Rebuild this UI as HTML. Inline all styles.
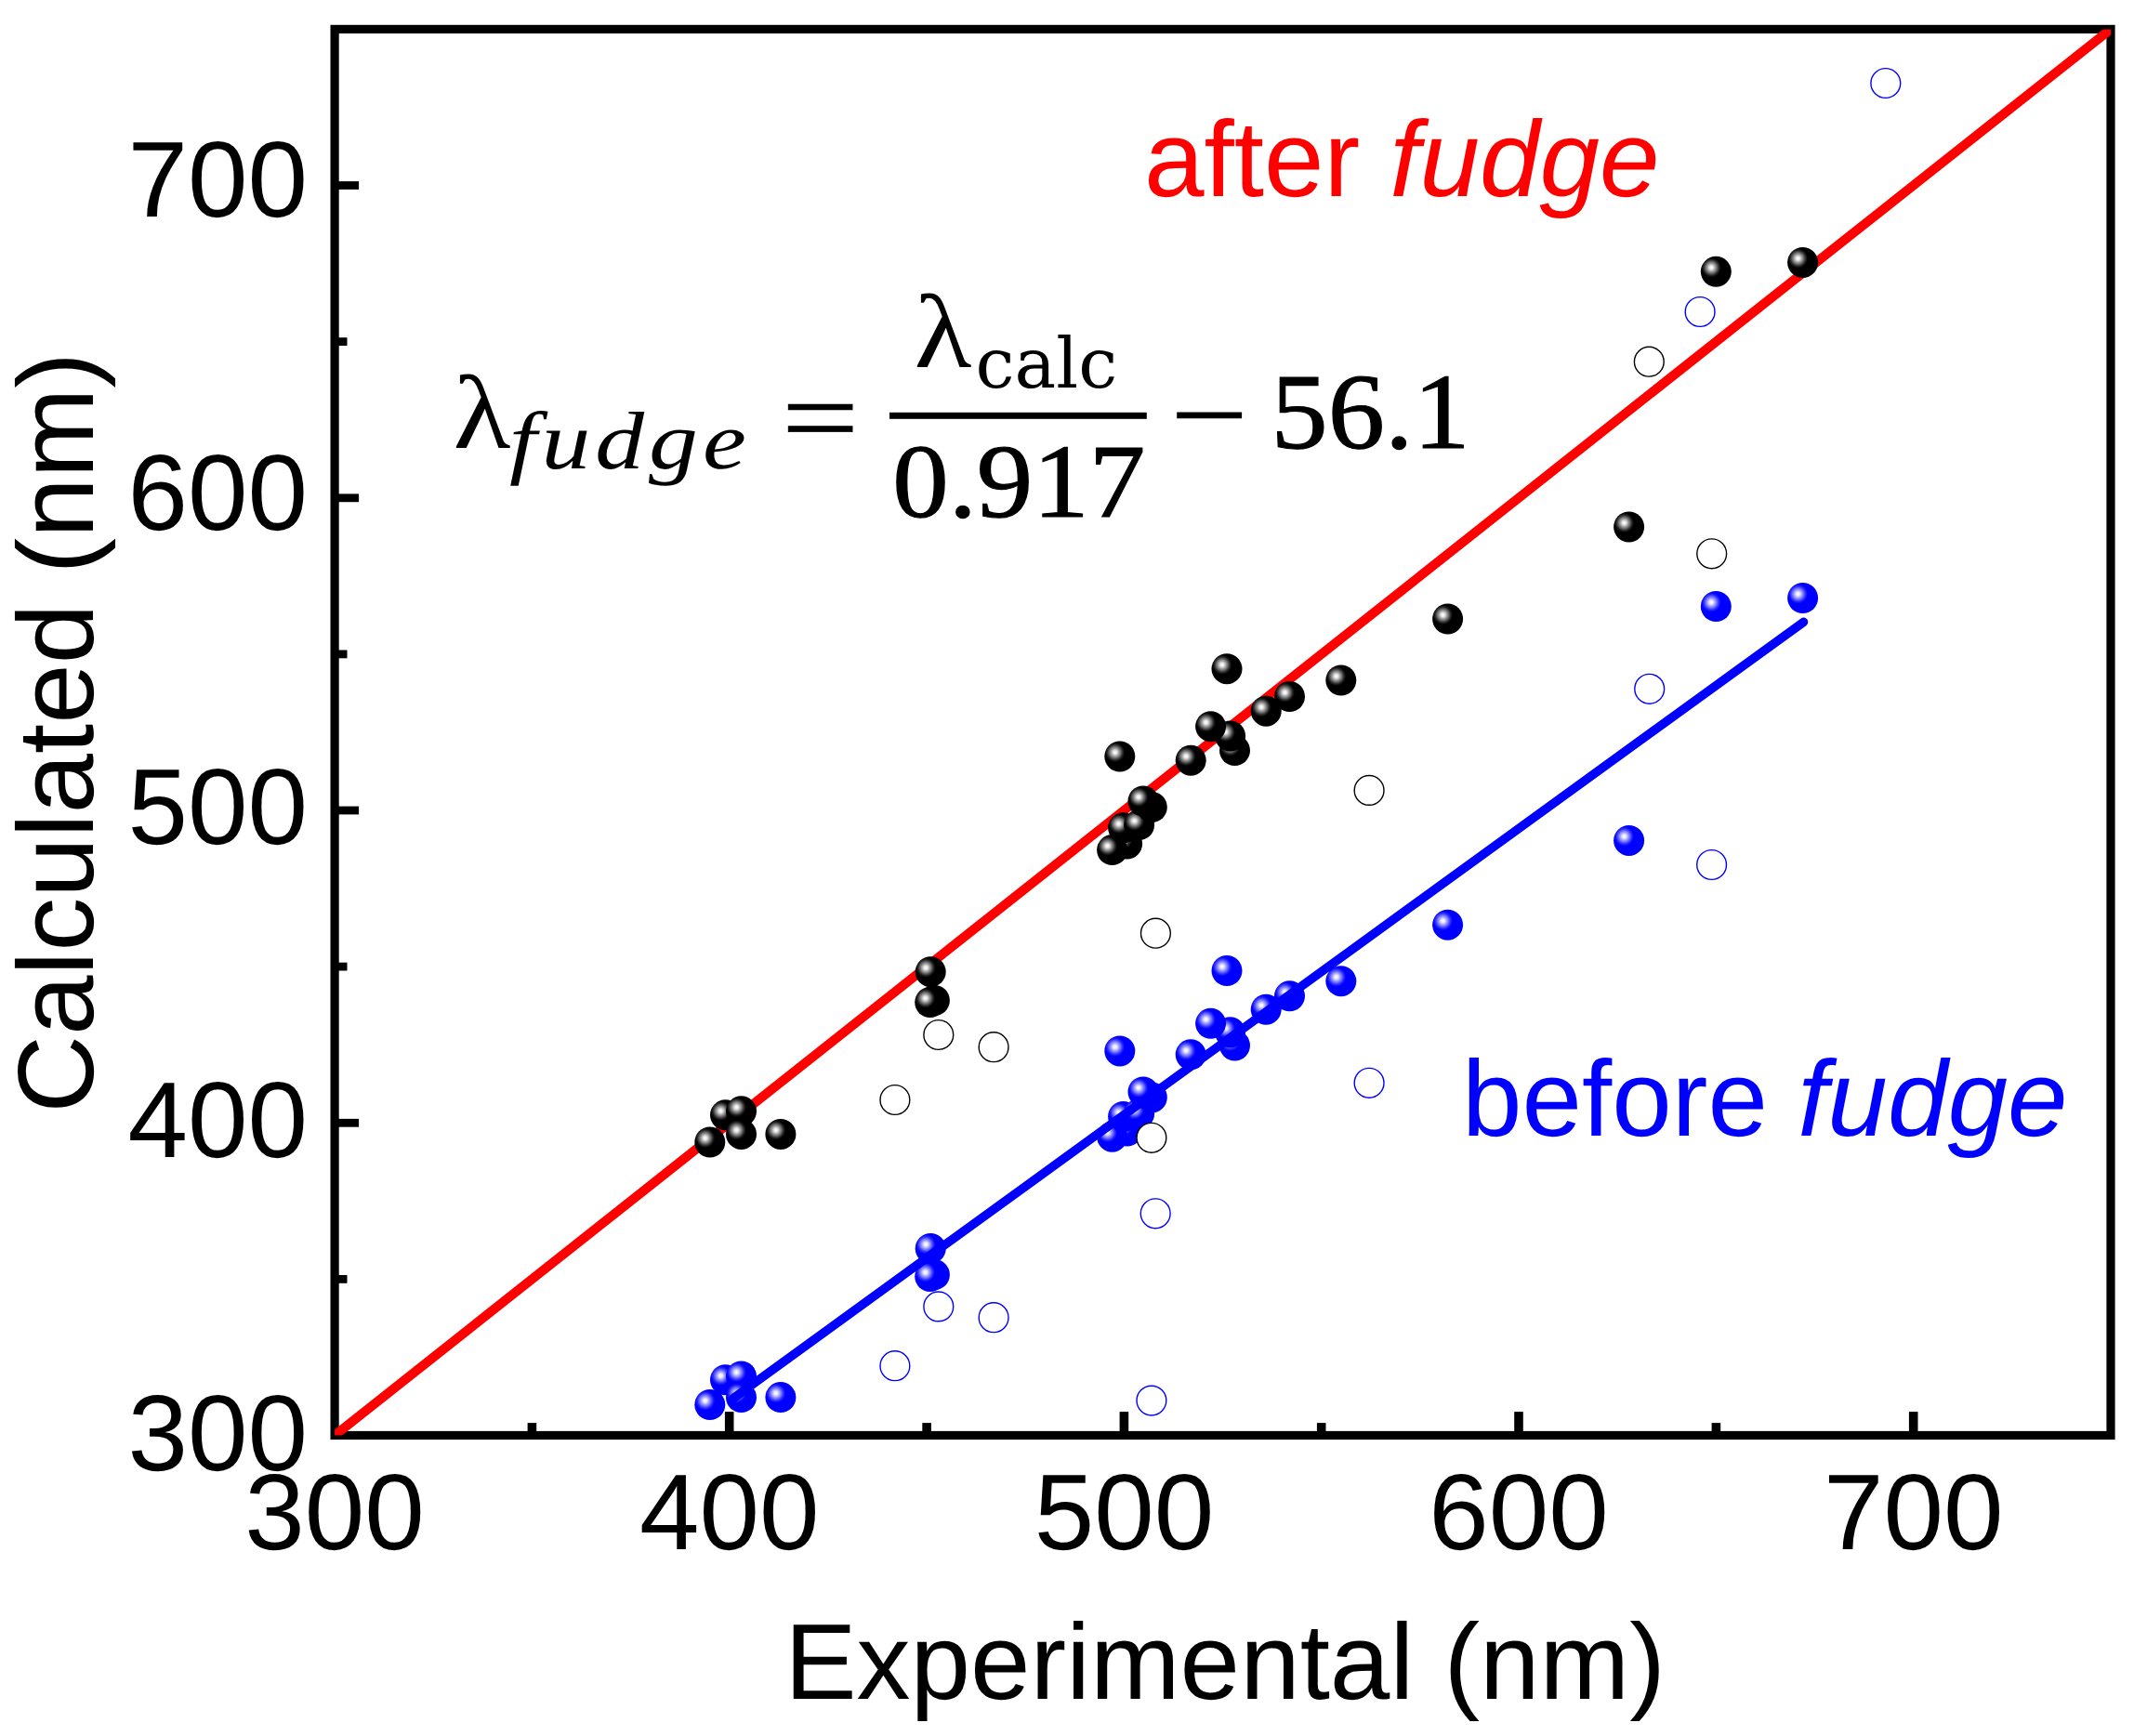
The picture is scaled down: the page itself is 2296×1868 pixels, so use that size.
<!DOCTYPE html>
<html lang="en"><head><meta charset="utf-8"><title>Calculated vs Experimental</title>
<style>
html,body{margin:0;padding:0;background:#fff;}
body{width:2296px;height:1868px;overflow:hidden;}
svg{display:block;}
.sans{font-family:"Liberation Sans",Arial,Helvetica,sans-serif;}
.serif{font-family:"Liberation Serif","Times New Roman",serif;}
.dserif{font-family:"DejaVu Serif","Liberation Serif",serif;}
</style></head><body>
<svg width="2296" height="1868" viewBox="0 0 2296 1868" text-rendering="geometricPrecision">
<defs>
<radialGradient id="hl" cx="0.5" cy="0.5" r="0.5"><stop offset="0" stop-color="#fff" stop-opacity="1"/><stop offset="0.18" stop-color="#fff" stop-opacity="0.92"/><stop offset="0.4" stop-color="#fff" stop-opacity="0.64"/><stop offset="0.6" stop-color="#fff" stop-opacity="0.4"/><stop offset="0.8" stop-color="#fff" stop-opacity="0.15"/><stop offset="1" stop-color="#fff" stop-opacity="0"/></radialGradient>
<g id="sb"><circle r="16.5" fill="#000"/><circle cx="-5.1" cy="-4.4" r="10.5" fill="url(#hl)"/></g>
<g id="su"><circle r="16.5" fill="#00f"/><circle cx="-5.1" cy="-4.4" r="10.5" fill="url(#hl)"/></g>
<clipPath id="plot"><rect x="360.1" y="31.4" width="1910.9" height="1513.1"/></clipPath>
</defs>
<rect width="2296" height="1868" fill="#fff"/>
<g stroke="#000" fill="none">
<rect x="360.1" y="31.4" width="1910.9" height="1513.1" stroke-width="9.2"/>
<g stroke-width="9.6">
<line x1="784.7" y1="1544.5" x2="784.7" y2="1519.1"/>
<line x1="1209.4" y1="1544.5" x2="1209.4" y2="1519.1"/>
<line x1="1634.0" y1="1544.5" x2="1634.0" y2="1519.1"/>
<line x1="2058.7" y1="1544.5" x2="2058.7" y2="1519.1"/>
<line x1="572.4" y1="1544.5" x2="572.4" y2="1531.1"/>
<line x1="997.1" y1="1544.5" x2="997.1" y2="1531.1"/>
<line x1="1421.7" y1="1544.5" x2="1421.7" y2="1531.1"/>
<line x1="1846.4" y1="1544.5" x2="1846.4" y2="1531.1"/>
</g><g stroke-width="8.8">
<line x1="360.1" y1="1208.3" x2="386.1" y2="1208.3"/>
<line x1="360.1" y1="872.0" x2="386.1" y2="872.0"/>
<line x1="360.1" y1="535.8" x2="386.1" y2="535.8"/>
<line x1="360.1" y1="199.5" x2="386.1" y2="199.5"/>
<line x1="360.1" y1="1376.4" x2="373.5" y2="1376.4"/>
<line x1="360.1" y1="1040.1" x2="373.5" y2="1040.1"/>
<line x1="360.1" y1="703.9" x2="373.5" y2="703.9"/>
<line x1="360.1" y1="367.6" x2="373.5" y2="367.6"/>
</g></g>
<g clip-path="url(#plot)">
<line x1="330.1" y1="1568.3" x2="2301.0" y2="7.6" stroke="#f00" stroke-width="10"/>
</g>
<g>
<use href="#su" x="763.8" y="1511.5"/>
<use href="#su" x="780.5" y="1484.7"/>
<use href="#su" x="797.5" y="1481.0"/>
<use href="#su" x="797.5" y="1503.6"/>
<use href="#su" x="839.9" y="1503.6"/>
<use href="#su" x="1005.4" y="1371.6"/>
<use href="#su" x="1000.7" y="1373.5"/>
<use href="#su" x="1001.2" y="1343.4"/>
<use href="#su" x="1212.6" y="1217.1"/>
<use href="#su" x="1196.6" y="1223.2"/>
<use href="#su" x="1208.6" y="1201.4"/>
<use href="#su" x="1225.6" y="1198.4"/>
<use href="#su" x="1239.3" y="1180.9"/>
<use href="#su" x="1230.0" y="1174.9"/>
<use href="#su" x="1204.8" y="1130.9"/>
<use href="#su" x="1281.2" y="1134.8"/>
<use href="#su" x="1328.5" y="1125.0"/>
<use href="#su" x="1323.6" y="1110.8"/>
<use href="#su" x="1302.6" y="1101.3"/>
<use href="#su" x="1387.5" y="1071.8"/>
<use href="#su" x="1362.2" y="1086.2"/>
<use href="#su" x="1320.0" y="1044.5"/>
<use href="#su" x="1442.8" y="1055.7"/>
<use href="#su" x="1557.6" y="995.2"/>
<use href="#su" x="1752.6" y="904.4"/>
<use href="#su" x="1846.3" y="652.5"/>
<use href="#su" x="1939.6" y="643.5"/>
</g>
<line x1="789.0" y1="1504.6" x2="1940.5" y2="669.3" stroke="#00f" stroke-width="9.5" stroke-linecap="round"/>
<g fill="#fff" stroke="#00f" stroke-width="1.4">
<circle cx="962.9" cy="1469.7" r="15.9"/>
<circle cx="1009.8" cy="1405.9" r="15.9"/>
<circle cx="1069.1" cy="1417.7" r="15.9"/>
<circle cx="1243.2" cy="1305.8" r="15.9"/>
<circle cx="1238.9" cy="1507.1" r="15.9"/>
<circle cx="1473.1" cy="1165.3" r="15.9"/>
<circle cx="1774.7" cy="741.3" r="15.9"/>
<circle cx="1841.6" cy="930.5" r="15.9"/>
<circle cx="1829.1" cy="335.5" r="15.9"/>
<circle cx="2028.8" cy="89.5" r="15.9"/>
</g>
<g>
<use href="#sb" x="763.8" y="1229.0"/>
<use href="#sb" x="780.5" y="1199.8"/>
<use href="#sb" x="797.5" y="1195.8"/>
<use href="#sb" x="797.5" y="1220.4"/>
<use href="#sb" x="839.9" y="1220.4"/>
<use href="#sb" x="1005.4" y="1076.5"/>
<use href="#sb" x="1000.7" y="1078.5"/>
<use href="#sb" x="1001.2" y="1045.7"/>
<use href="#sb" x="1212.6" y="908.0"/>
<use href="#sb" x="1196.6" y="914.6"/>
<use href="#sb" x="1208.6" y="890.8"/>
<use href="#sb" x="1225.6" y="887.6"/>
<use href="#sb" x="1239.3" y="868.5"/>
<use href="#sb" x="1230.0" y="862.0"/>
<use href="#sb" x="1204.8" y="814.0"/>
<use href="#sb" x="1281.2" y="818.2"/>
<use href="#sb" x="1328.5" y="807.5"/>
<use href="#sb" x="1323.6" y="792.0"/>
<use href="#sb" x="1302.6" y="781.7"/>
<use href="#sb" x="1387.5" y="749.5"/>
<use href="#sb" x="1362.2" y="765.2"/>
<use href="#sb" x="1320.0" y="719.7"/>
<use href="#sb" x="1442.8" y="732.0"/>
<use href="#sb" x="1557.6" y="666.0"/>
<use href="#sb" x="1752.6" y="567.0"/>
<use href="#sb" x="1846.3" y="292.3"/>
<use href="#sb" x="1939.6" y="282.4"/>
</g>
<g fill="#fff" stroke="#000" stroke-width="1.4">
<circle cx="962.9" cy="1183.5" r="15.9"/>
<circle cx="1009.8" cy="1113.5" r="15.9"/>
<circle cx="1069.1" cy="1126.7" r="15.9"/>
<circle cx="1238.9" cy="1224.3" r="15.9"/>
<circle cx="1243.4" cy="1004.2" r="15.9"/>
<circle cx="1473.1" cy="850.4" r="15.9"/>
<circle cx="1774.3" cy="389.2" r="15.9"/>
<circle cx="1841.7" cy="595.8" r="15.9"/>
</g>
<g class="sans" font-size="116" fill="#000">
<text x="360.1" y="1667.0" text-anchor="middle">300</text>
<text x="784.7" y="1667.0" text-anchor="middle">400</text>
<text x="1209.4" y="1667.0" text-anchor="middle">500</text>
<text x="1634.0" y="1667.0" text-anchor="middle">600</text>
<text x="2058.7" y="1667.0" text-anchor="middle">700</text>
<text x="331.0" y="1582.3" text-anchor="end">300</text>
<text x="331.0" y="1244.9" text-anchor="end">400</text>
<text x="331.0" y="907.5" text-anchor="end">500</text>
<text x="331.0" y="570.1" text-anchor="end">600</text>
<text x="331.0" y="232.7" text-anchor="end">700</text>
<text x="1318.0" y="1827.5" text-anchor="middle">Experimental (nm)</text>
<text transform="translate(99.5,788.4) rotate(-90)" text-anchor="middle">Calculated (nm)</text>
</g>
<g class="sans" font-size="116">
<text x="1231" y="210.5" fill="#f00">after <tspan font-style="italic">fudge</tspan></text>
<text x="1573" y="1222.3" fill="#00f">before <tspan font-style="italic">fudge</tspan></text>
</g>
<g fill="#000">
<text class="serif" transform="translate(487.6,481.8) scale(1.130,1)" font-size="113">λ</text>
<text class="serif" transform="translate(548.0,503.7) scale(1.200,1)" font-size="88" font-style="italic" letter-spacing="4.2">fudge</text>
<text class="serif" transform="translate(840.9,489.2) scale(1.250,1)" font-size="118" stroke="#000" stroke-width="0.8">=</text>
<text class="serif" transform="translate(983.4,394.5) scale(1.130,1)" font-size="113">λ</text>
<text class="dserif" transform="translate(1049.5,417.2) scale(1.000,1)" font-size="75">calc</text>
<rect x="957" y="443.8" width="276.8" height="7"/>
<text class="serif" transform="translate(1096.2,556.3) scale(1.070,1)" font-size="113" text-anchor="middle" stroke="#000" stroke-width="1.2">0.917</text>
<text class="serif" transform="translate(1259.4,486.3) scale(1.250,1)" font-size="118" stroke="#000" stroke-width="1.0">−</text>
<text class="serif" transform="translate(1367.5,481.6) scale(1.055,1)" font-size="116" stroke="#000" stroke-width="1.2">56.1</text>
</g>
</svg>
</body></html>
